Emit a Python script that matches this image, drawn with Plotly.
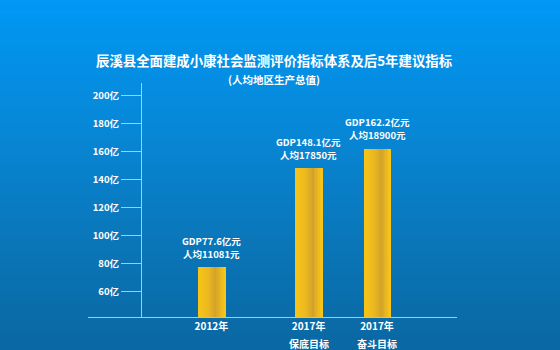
import plotly.graph_objects as go

# ---- data -------------------------------------------------------------
years = ["2012年", "2017年", "2017年"]
targets = ["", "保底目标", "奋斗目标"]
gdp_yi = [77.6, 148.1, 162.2]            # 地区生产总值（亿元）
per_capita = [11081, 17850, 18900]       # 人均地区生产总值（元）
y_ticks = [60, 80, 100, 120, 140, 160, 180, 200]
y_tick_labels = [f"{v}亿" for v in y_ticks]

title_text = "辰溪县全面建成小康社会监测评价指标体系及后5年建议指标"
subtitle_text = "(人均地区生产总值)"

# ---- layout helpers ---------------------------------------------------
W, H = 560, 350
slots = [0.0, 1.42, 2.42]                # horizontal placement of the three columns
bar_width = 0.40
PLOT_BOTTOM = 1 - 317 / H
FONT = "Noto Sans CJK SC, Noto Sans, sans-serif"
WHITE = "#ffffff"
AXIS_COLOR = "rgba(195,228,250,0.8)"


def hex_to_rgb(h):
    h = h.lstrip("#")
    return tuple(int(h[i:i + 2], 16) for i in (0, 2, 4))


def lerp_stops(stops, t):
    for (p0, c0), (p1, c1) in zip(stops, stops[1:]):
        if p0 <= t <= p1:
            f = 0 if p1 == p0 else (t - p0) / (p1 - p0)
            a, b = hex_to_rgb(c0), hex_to_rgb(c1)
            return "rgb({},{},{})".format(*[round(a[k] + (b[k] - a[k]) * f) for k in range(3)])
    return stops[-1][1]


# background: vertical blue gradient built from thin bands
bg_stops = [(0.0, "#0098F4"), (0.35, "#0788D8"), (0.7, "#0A76B8"), (1.0, "#0A68A3")]
shapes = []
n_bands = 70
for i in range(n_bands):
    t = i / (n_bands - 1)
    shapes.append(dict(
        type="rect", xref="paper", yref="paper", layer="below",
        x0=0, x1=1, y0=1 - (i + 1) / n_bands - 0.002, y1=1 - i / n_bands,
        fillcolor=lerp_stops(bg_stops, t), line=dict(width=0),
    ))

fig = go.Figure()

# gold columns with a horizontal sheen, drawn as overlapping narrow strips
bar_stops = [(0.0, "#F8C419"), (0.35, "#EDBA1F"), (0.64, "#D3A22B"),
             (0.84, "#EEBB1E"), (1.0, "#FAC617")]
n_strips = 18
step = bar_width / n_strips
for i in range(n_strips):
    t = (i + 0.5) / n_strips
    last = i == n_strips - 1
    fig.add_trace(go.Bar(
        x=slots, y=gdp_yi,
        width=step if last else step * 1.6,
        offset=-bar_width / 2 + i * step,
        marker=dict(color=lerp_stops(bar_stops, t), line=dict(width=0)),
        hoverinfo="skip", showlegend=False,
    ))

annotations = []
label_font = dict(family=FONT, size=9.5, color=WHITE, weight="bold")

# value labels above each column (two stacked lines)
for xs, v, p in zip(slots, gdp_yi, per_capita):
    annotations.append(dict(
        x=xs, y=v, xref="x", yref="y", yanchor="bottom", yshift=5, borderpad=0,
        text=f"人均{p}元", showarrow=False, font=label_font,
    ))
    annotations.append(dict(
        x=xs, y=v, xref="x", yref="y", yanchor="bottom", yshift=18, borderpad=0,
        text=f"GDP{v}亿元", showarrow=False, font=label_font,
    ))

# second line of the category captions under the axis
for xs, name in zip(slots, targets):
    if name:
        annotations.append(dict(
            x=xs, y=PLOT_BOTTOM, xref="x", yref="paper", yanchor="top",
            yshift=-18, borderpad=0, text=name, showarrow=False,
            font=dict(family=FONT, size=10, color=WHITE, weight="bold"),
        ))

annotations.append(dict(
    x=274 / W, y=1 - 48 / H, xref="paper", yref="paper",
    text=title_text, showarrow=False,
    font=dict(family=FONT, size=13.4, color=WHITE, weight="bold"),
))
annotations.append(dict(
    x=274 / W, y=1 - 70 / H, xref="paper", yref="paper",
    text=subtitle_text, showarrow=False,
    font=dict(family=FONT, size=10.5, color=WHITE, weight="bold"),
))

fig.update_layout(
    width=W, height=H, autosize=False,
    margin=dict(l=0, r=0, t=0, b=0, pad=0),
    paper_bgcolor="#0780C8", plot_bgcolor="rgba(0,0,0,0)",
    barmode="overlay", bargap=0,
    font=dict(family=FONT, color=WHITE, size=10, weight="bold"),
    shapes=shapes, annotations=annotations,
    xaxis=dict(
        domain=[87.5 / W, 457 / W], range=[-1.811, 3.589],
        tickmode="array", tickvals=slots, ticktext=years,
        showline=True, linecolor=AXIS_COLOR, linewidth=1.2,
        ticks="", showgrid=False, zeroline=False,
        tickfont=dict(family=FONT, size=10, color=WHITE, weight="bold"),
        fixedrange=True,
    ),
    yaxis=dict(
        domain=[PLOT_BOTTOM, 1 - 82.7 / H], range=[42, 209],
        anchor="free", position=141 / W,
        tickmode="array", tickvals=y_ticks, ticktext=y_tick_labels,
        showline=True, linecolor=AXIS_COLOR, linewidth=1.2,
        ticks="outside", ticklen=20, tickwidth=1.2, tickcolor=AXIS_COLOR,
        showgrid=False, zeroline=False,
        tickfont=dict(family=FONT, size=9.5, color=WHITE, weight="bold"),
        fixedrange=True,
    ),
)

fig.write_html("out.html")
